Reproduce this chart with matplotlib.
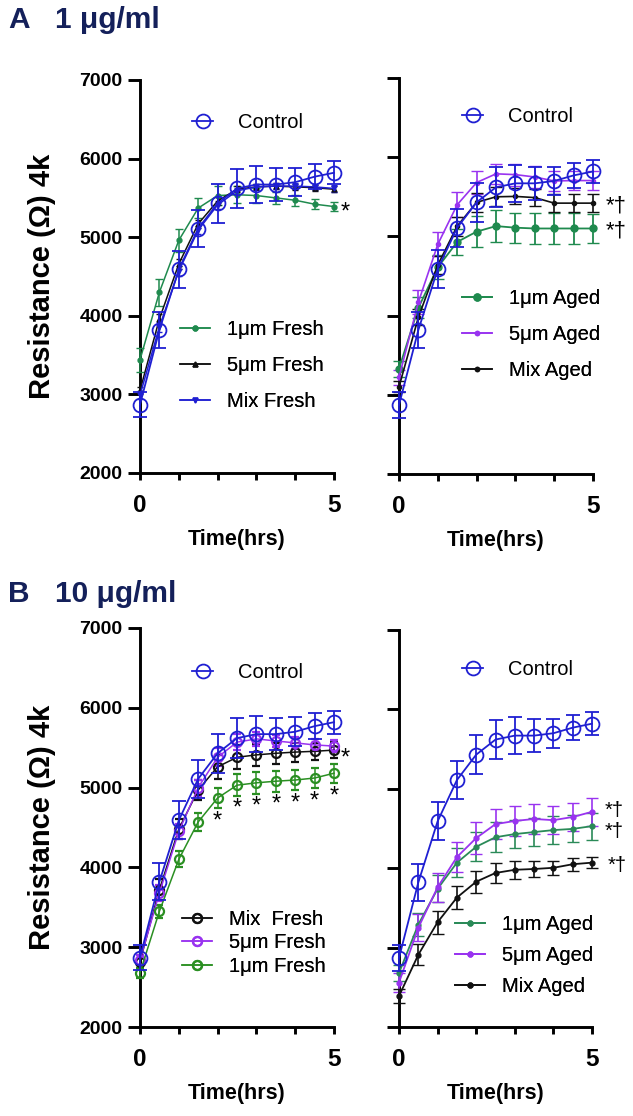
import matplotlib
matplotlib.use('Agg')
import matplotlib.pyplot as plt

plt.rcParams['font.family'] = ['Liberation Sans', 'DejaVu Sans']

# ---------------- data ----------------
t = [0, 0.5, 1, 1.5, 2, 2.5, 3, 3.5, 4, 4.5, 5]

control_mean = [2870, 3820, 4590, 5110, 5430, 5620, 5670, 5670, 5700, 5770, 5820]
control_err = [160, 230, 240, 240, 245, 250, 230, 205, 180, 160, 145]

# A: 1 ug/ml, fresh
a_1um_fresh = [3440, 4300, 4960, 5370, 5530, 5540, 5530, 5500, 5470, 5420, 5390]
a_1um_fresh_err = [150, 170, 150, 130, 120, 110, 100, 80, 70, 60, 55]
a_5um_fresh = [3050, 3960, 4660, 5170, 5460, 5610, 5640, 5650, 5640, 5630, 5610]
a_5um_fresh_err = [50, 60, 60, 50, 50, 40, 40, 40, 40, 40, 40]
a_mix_fresh = [2990, 3860, 4570, 5090, 5410, 5590, 5640, 5650, 5650, 5640, 5620]
a_mix_fresh_err = [50, 60, 60, 50, 50, 40, 40, 40, 40, 40, 40]

# A: 1 ug/ml, aged
a_1um_aged = [3330, 4100, 4610, 4930, 5060, 5130, 5110, 5100, 5100, 5100, 5100]
a_1um_aged_err = [100, 130, 150, 160, 200, 200, 190, 190, 190, 190, 185]
a_5um_aged = [3220, 4170, 4900, 5400, 5680, 5790, 5780, 5750, 5700, 5705, 5705]
a_5um_aged_err = [90, 150, 150, 160, 140, 130, 140, 140, 130, 120, 115]
a_mix_aged = [3100, 3980, 4640, 5130, 5430, 5500, 5505, 5490, 5420, 5420, 5420]
a_mix_aged_err = [70, 100, 110, 120, 120, 120, 100, 110, 115, 115, 115]

# B: 10 ug/ml, fresh
b_mix_fresh = [2820, 3720, 4480, 4970, 5260, 5380, 5410, 5430, 5445, 5455, 5470]
b_mix_fresh_err = [80, 130, 130, 120, 150, 150, 140, 130, 120, 110, 100]
b_5um_fresh = [2840, 3680, 4450, 5000, 5380, 5570, 5610, 5585, 5560, 5535, 5520]
b_5um_fresh_err = [60, 100, 100, 100, 110, 100, 90, 80, 80, 80, 80]
b_1um_fresh = [2680, 3450, 4100, 4570, 4870, 5030, 5060, 5080, 5095, 5120, 5180]
b_1um_fresh_err = [60, 80, 100, 110, 130, 140, 140, 130, 130, 120, 120]

# B: 10 ug/ml, aged
b_1um_aged = [2680, 3290, 3740, 4070, 4270, 4390, 4430, 4455, 4480, 4495, 4530]
b_1um_aged_err = [100, 150, 170, 180, 180, 190, 180, 180, 180, 170, 170]
b_5um_aged = [2560, 3250, 3760, 4140, 4380, 4555, 4595, 4620, 4605, 4645, 4710]
b_5um_aged_err = [120, 170, 180, 190, 200, 190, 190, 190, 180, 180, 180]
b_mix_aged = [2390, 2910, 3320, 3630, 3830, 3940, 3980, 3990, 4005, 4050, 4070]
b_mix_aged_err = [90, 130, 145, 140, 140, 130, 115, 100, 90, 80, 70]

# significance marks: times under the 1um Fresh curve in panel B
b_star_times = [2, 2.5, 3, 3.5, 4, 4.5, 5]

x_ticks = [0, 1, 2, 3, 4, 5]
x_ticklabels = ['0', '', '', '', '', '5']
y_ticks = [2000, 3000, 4000, 5000, 6000, 7000]
y_ticklabels = ['2000', '3000', '4000', '5000', '6000', '7000']

# ---------------- colours ----------------
C_CTRL = '#1f1fd2'
C_GREEN_A = '#1f8a4e'
C_GREEN_BF = '#2a8f22'
C_GREEN_BA = '#2a8a58'
C_PURPLE = '#9933f0'
C_BLACK = '#111111'
C_TITLE = '#14205a'

W, H = 633, 1116
fig = plt.figure(figsize=(W / 100, H / 100), dpi=100)


def px_rect(x0, y_top, x1, y_bot):
    return [x0 / W, 1 - y_bot / H, (x1 - x0) / W, (y_bot - y_top) / H]


axA1 = fig.add_axes(px_rect(140, 80, 334, 473))
axA2 = fig.add_axes(px_rect(399, 78, 593, 474))
axB1 = fig.add_axes(px_rect(140, 628, 334, 1027))
axB2 = fig.add_axes(px_rect(399, 630, 592, 1027))


def style(ax, ylabels):
    ax.set_xlim(0, 5)
    ax.set_ylim(2000, 7000)
    for s in ['top', 'right']:
        ax.spines[s].set_visible(False)
    for s in ['left', 'bottom']:
        ax.spines[s].set_linewidth(2.1)
    ax.set_xticks(x_ticks)
    ax.set_xticklabels(x_ticklabels)
    ax.set_yticks(y_ticks)
    ax.set_yticklabels(y_ticklabels if ylabels else [])
    ax.tick_params(axis='x', length=5, width=2.1, pad=10, labelsize=17.5)
    ax.tick_params(axis='y', length=8.5, width=2.1, pad=4, labelsize=14)
    for lbl in ax.get_xticklabels() + ax.get_yticklabels():
        lbl.set_fontweight('bold')
    ax.patch.set_visible(False)
    ax.set_xlabel('Time(hrs)', fontsize=15.5, fontweight='bold', labelpad=9)


def series(ax, y, err, color, marker, ms, mfc, lw, mew, capsize, elw, z):
    eb = ax.errorbar(t, y, yerr=err, color=color, ecolor=color, marker=marker,
                     ms=ms, mfc=mfc, mec=color, mew=mew, lw=lw,
                     capsize=capsize, elinewidth=elw, capthick=elw,
                     clip_on=False, zorder=z)
    eb[0].set_clip_on(False)
    for c in eb[1]:
        c.set_clip_on(False)
    for b in eb[2]:
        b.set_clip_on(False)
    return eb[0]


def control(ax):
    return series(ax, control_mean, control_err, C_CTRL, 'o', 10, 'none', 1.3, 1.3, 5, 1.3, 5)


LEG_FS = 14.5


def legend(ax, handles, labels, px, py, hl, htp, ls):
    leg = ax.legend(handles, labels, loc='upper left',
                    bbox_to_anchor=(px / W, 1 - py / H), bbox_transform=fig.transFigure,
                    frameon=False, borderpad=0, borderaxespad=0,
                    handlelength=hl, handletextpad=htp, labelspacing=ls, fontsize=LEG_FS)
    ax.add_artist(leg)


def mark(ax, x, y, s, dx, dy, ha='left', size=15):
    ax.annotate(s, xy=(x, y), xytext=(dx, dy), textcoords='offset points',
                ha=ha, va='center', fontsize=size, color='black', annotation_clip=False)


# ---------------- Panel A left ----------------
style(axA1, True)
h1 = series(axA1, a_1um_fresh, a_1um_fresh_err, C_GREEN_A, 'o', 3.5, C_GREEN_A, 1.1, 1, 3, 1.1, 3)
h2 = series(axA1, a_5um_fresh, a_5um_fresh_err, C_BLACK, '^', 3.5, C_BLACK, 1.1, 1, 2.5, 1.0, 3)
h3 = series(axA1, a_mix_fresh, a_mix_fresh_err, C_CTRL, 'v', 3.5, C_CTRL, 1.1, 1, 2.5, 1.0, 3)
hc = control(axA1)
legend(axA1, [hc], ['Control'], 192, 113, 1.05, 1.25, 1.0)
legend(axA1, [h1, h2, h3], ['1μm Fresh', '5μm Fresh', 'Mix Fresh'], 180, 320, 1.5, 0.85, 0.85)
mark(axA1, t[-1], a_1um_fresh[-1], '*', 5, -4, size=17)

# ---------------- Panel A right ----------------
style(axA2, False)
g1 = series(axA2, a_1um_aged, a_1um_aged_err, C_GREEN_A, 'o', 5, C_GREEN_A, 1.3, 1, 4, 1.3, 3)
g2 = series(axA2, a_5um_aged, a_5um_aged_err, C_PURPLE, 'o', 3, C_PURPLE, 1.2, 1, 4, 1.2, 3)
g3 = series(axA2, a_mix_aged, a_mix_aged_err, C_BLACK, 'o', 3, C_BLACK, 1.2, 1, 4, 1.2, 3)
hc = control(axA2)
legend(axA2, [hc], ['Control'], 462, 107, 1.05, 1.25, 1.0)
legend(axA2, [g1, g2, g3], ['1μm Aged', '5μm Aged', 'Mix Aged'], 462, 289, 1.5, 0.85, 0.85)
mark(axA2, t[-1], a_mix_aged[-1], '*†', 9, -2, size=16)
mark(axA2, t[-1], a_1um_aged[-1], '*†', 9, -2, size=16)

# ---------------- Panel B left ----------------
style(axB1, True)
k1 = series(axB1, b_mix_fresh, b_mix_fresh_err, C_BLACK, 'o', 6.5, 'none', 1.1, 1.6, 3, 1.1, 3)
k2 = series(axB1, b_5um_fresh, b_5um_fresh_err, C_PURPLE, 'o', 6.5, 'none', 1.1, 1.6, 3, 1.1, 3)
k3 = series(axB1, b_1um_fresh, b_1um_fresh_err, C_GREEN_BF, 'o', 6.5, 'none', 1.1, 1.6, 3, 1.1, 3)
hc = control(axB1)
legend(axB1, [hc], ['Control'], 192, 663, 1.05, 1.25, 1.0)
legend(axB1, [k1, k2, k3], ['Mix  Fresh', '5μm Fresh', '1μm Fresh'], 182, 910, 1.5, 0.85, 0.22)
for tt in b_star_times:
    mark(axB1, tt, b_1um_fresh[t.index(tt)], '*', 0, -17, ha='center', size=17)
mark(axB1, t[-1], b_5um_fresh[-1], '*', 5, -9, size=17)

# ---------------- Panel B right ----------------
style(axB2, False)
m1 = series(axB2, b_1um_aged, b_1um_aged_err, C_GREEN_BA, 'o', 3.5, C_GREEN_BA, 1.3, 1, 4, 1.2, 3)
m2 = series(axB2, b_5um_aged, b_5um_aged_err, C_PURPLE, 'o', 3.5, C_PURPLE, 1.3, 1, 4, 1.2, 3)
m3 = series(axB2, b_mix_aged, b_mix_aged_err, C_BLACK, 'o', 3.5, C_BLACK, 1.3, 1, 4, 1.2, 3)
hc = control(axB2)
legend(axB2, [hc], ['Control'], 462, 660, 1.05, 1.25, 1.0)
legend(axB2, [m1, m2, m3], ['1μm Aged', '5μm Aged', 'Mix Aged'], 455, 915, 1.5, 0.85, 0.6)
mark(axB2, t[-1], b_5um_aged[-1], '*†', 9, 1, size=14.5)
mark(axB2, t[-1], b_1um_aged[-1], '*†', 9, -4, size=14.5)
mark(axB2, t[-1], b_mix_aged[-1], '*†', 11, -2, size=14.5)

# ---------------- labels / titles ----------------
for yc in [276, 827]:
    fig.text(42 / W, 1 - yc / H, 'Resistance (Ω) 4k', rotation=90, ha='center', va='center',
             fontsize=21, fontweight='bold')

fig.text(8 / W, 1 - 28 / H, 'A', fontsize=21.5, fontweight='bold', color=C_TITLE, va='baseline')
fig.text(55 / W, 1 - 28 / H, '1 μg/ml', fontsize=21.5, fontweight='bold', color=C_TITLE, va='baseline')
fig.text(8 / W, 1 - 602 / H, 'B', fontsize=21.5, fontweight='bold', color=C_TITLE, va='baseline')
fig.text(55 / W, 1 - 602 / H, '10 μg/ml', fontsize=21.5, fontweight='bold', color=C_TITLE, va='baseline')

fig.savefig('out.png', dpi=100)
